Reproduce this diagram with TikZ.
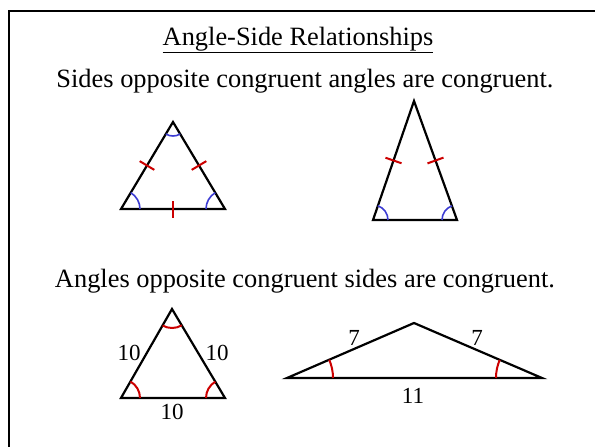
\documentclass[tikz,border=0pt]{standalone}
\usepackage{fontspec}
\setmainfont{Liberation Serif}
\usetikzlibrary{
  calc,
  angles
}
\definecolor{tickred}{RGB}{204, 0, 0}
\definecolor{arcblue}{RGB}{60, 60, 210}
\tikzset{
  % frame of the slide
  frameline/.style = {line width=2pt, draw=black},
  % triangle sides
  triline/.style   = {line width=2.2pt, draw=black, line join=miter},
  % equal-side marks
  tickmark/.style  = {line width=2pt, draw=tickred},
  % angle marks
  arcblue/.style   = {draw=arcblue, line width=1.6pt},
  arcred/.style    = {draw=tickred, line width=2pt},
  % texts
  headtxt/.style   = {font=\fontsize{26.4}{30}\selectfont, inner sep=0pt},
  sidelab/.style   = {font=\fontsize{23}{27}\selectfont, inner sep=1pt},
}
\newcommand{\sidetick}[2]{%
  \draw[tickmark] ($(#1)!0.5!(#2)!8.5pt!90:(#2)$) -- ($(#1)!0.5!(#2)!8.5pt!-90:(#2)$);}

\begin{document}
\begin{tikzpicture}[x=1pt, y=-1pt]
  \useasboundingbox (0,0) rectangle (595,447);
  % frame
  \draw[frameline] (9,447) -- (9,11) -- (595,11);
  % texts
  \node[headtxt] (title) at (298,40) {\underline{Angle-Side Relationships}};
  \node[headtxt] (rule1) at (305,81) {Sides opposite congruent angles are congruent.};
  \node[headtxt] (rule2) at (305,281) {Angles opposite congruent sides are congruent.};

  % equilateral triangle, blue angles
  \coordinate (aT) at (173,122);
  \coordinate (aL) at (121,209);
  \coordinate (aR) at (225,209);
  \draw[triline] (aL) -- (aT) -- (aR) -- cycle;
  \pic[arcblue, angle radius=19pt] {angle = aR--aL--aT};
  \pic[arcblue, angle radius=19pt] {angle = aT--aR--aL};
  \pic[arcblue, angle radius=14pt] {angle = aL--aT--aR};
  \sidetick{aL}{aT}
  \sidetick{aT}{aR}
  \sidetick{aR}{aL}

  % tall isosceles triangle
  \coordinate (bT) at (414,101);
  \coordinate (bL) at (373,220);
  \coordinate (bR) at (457,220);
  \draw[triline] (bL) -- (bT) -- (bR) -- cycle;
  \pic[arcblue, angle radius=15pt] {angle = bR--bL--bT};
  \pic[arcblue, angle radius=15pt] {angle = bT--bR--bL};
  \sidetick{bL}{bT}
  \sidetick{bT}{bR}

  % equilateral triangle with lengths
  \coordinate (cT) at (172,309);
  \coordinate (cL) at (121,398);
  \coordinate (cR) at (225,398);
  \draw[triline] (cL) -- (cT) -- (cR) -- cycle;
  \pic[arcred, angle radius=19pt] {angle = cR--cL--cT};
  \pic[arcred, angle radius=19pt] {angle = cT--cR--cL};
  \pic[arcred, angle radius=19pt] {angle = cL--cT--cR};
  \node[sidelab] (cl1) at (129,353) {10};
  \node[sidelab] (cl2) at (217,353) {10};
  \node[sidelab] (cl3) at (172,412) {10};

  % flat isosceles triangle
  \coordinate (dT) at (414,323);
  \coordinate (dL) at (287,378);
  \coordinate (dR) at (542,378);
  \draw[triline] (dL) -- (dT) -- (dR) -- cycle;
  \pic[arcred, angle radius=46pt] {angle = dR--dL--dT};
  \pic[arcred, angle radius=46pt] {angle = dT--dR--dL};
  \node[sidelab] (dl1) at (354,338) {7};
  \node[sidelab] (dl2) at (477,338) {7};
  \node[sidelab] (dl3) at (413,396) {11};
\end{tikzpicture}
\end{document}
